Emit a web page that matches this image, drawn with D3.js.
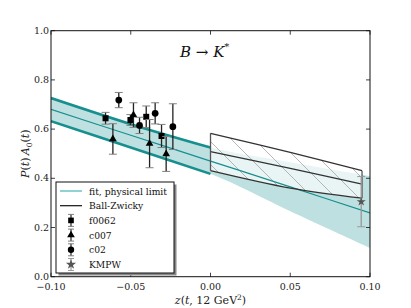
<!DOCTYPE html>
<html>
<head>
<meta charset="utf-8">
<script src="https://cdn.jsdelivr.net/npm/d3@7"></script>
<style>
  body { margin: 0; background: #fff; }
</style>
</head>
<body>
<div class="chart"></div>
<script>
// fit band, z(t) from -0.1 to 0.1
const bandZ = [-0.1, -0.05, 0, 0.05, 0.1];
const bandCentral = [0.680, 0.575, 0.470, 0.365, 0.259];
const bandUpper = [0.726, 0.620, 0.525, 0.465, 0.409];
const bandLower = [0.632, 0.525, 0.418, 0.266, 0.117];

// Ball-Zwicky box
const bzZ = [0, 0.05, 0.095];
const bzUpper = [0.583, 0.505, 0.431];
const bzCentral = [0.508, 0.440, 0.376];
const bzLower = [0.431, 0.360, 0.319];

// lattice points
const f0062Z = [-0.0658, -0.0502, -0.0403, -0.0307];
const f0062Val = [0.644, 0.637, 0.650, 0.572];
const f0062Err = [0.024, 0.022, 0.044, 0.047];

const c007Z = [-0.0612, -0.0483, -0.0382, -0.0278];
const c007Val = [0.560, 0.657, 0.541, 0.499];
const c007Err = [0.062, 0.050, 0.098, 0.071];

const c02Z = [-0.0575, -0.0445, -0.0347, -0.0236];
const c02Val = [0.718, 0.615, 0.664, 0.610];
const c02Err = [0.031, 0.033, 0.043, 0.093];

const kmpwZ = [0.0945];
const kmpwVal = [0.305];
const kmpwErr = [0.102];

const xTicks = [-0.1, -0.05, 0, 0.05, 0.1];
const yTicks = [0, 0.2, 0.4, 0.6, 0.8, 1.0];

const width = 411, height = 308;
const margin = { top: 30.7, right: 41, bottom: 31.3, left: 51 };
const serif = "'DejaVu Serif', serif";

const svg = d3.select(".chart")
  .append("svg")
  .attr("width", width)
  .attr("height", height)
  .attr("font-family", serif);

const x = d3.scaleLinear().domain([-0.1, 0.1]).range([margin.left, width - margin.right]);
const y = d3.scaleLinear().domain([0, 1]).range([height - margin.bottom, margin.top]);

const teal = "#178f8f";

// hatch pattern for the Ball-Zwicky box
const defs = svg.append("defs");
defs.append("clipPath").attr("id", "plotClip")
  .append("rect")
  .attr("x", x(-0.1)).attr("y", y(1))
  .attr("width", x(0.1) - x(-0.1)).attr("height", y(0) - y(1));
const hatch = defs.append("pattern")
  .attr("id", "hatch")
  .attr("patternUnits", "userSpaceOnUse")
  .attr("width", 23).attr("height", 23);
hatch.append("path")
  .attr("d", "M0,0 L23,23 M-6,17 L6,29 M17,-6 L29,6")
  .attr("stroke", "#9a9a9a")
  .attr("stroke-width", 0.7);

const plot = svg.append("g").attr("clip-path", "url(#plotClip)");

// fit band
const band = bandZ.map((z, i) => ({ z, c: bandCentral[i], hi: bandUpper[i], lo: bandLower[i] }));
const bandArea = d3.area()
  .x(d => x(d.z))
  .y0(d => y(d.lo))
  .y1(d => y(d.hi))
  .curve(d3.curveCatmullRom);
plot.append("path")
  .datum(band)
  .attr("d", bandArea)
  .attr("fill", "#bfe0e0");

// Ball-Zwicky box
const bz = bzZ.map((z, i) => ({ z, hi: bzUpper[i], c: bzCentral[i], lo: bzLower[i] }));
const bzArea = d3.area()
  .x(d => x(d.z))
  .y0(d => y(d.lo))
  .y1(d => y(d.hi))
  .curve(d3.curveCatmullRom);
plot.append("path").datum(bz).attr("d", bzArea)
  .attr("fill", "white").attr("fill-opacity", 0.65);
plot.append("path").datum(bz).attr("d", bzArea)
  .attr("fill", "url(#hatch)");

// central fit line
const line = (key) => d3.line()
  .x(d => x(d.z))
  .y(d => y(d[key]))
  .curve(d3.curveCatmullRom);
plot.append("path")
  .datum(band)
  .attr("d", line("c"))
  .attr("fill", "none")
  .attr("stroke", teal)
  .attr("stroke-width", 1.2);

// thick edges over the data region
const bandData = band.filter(d => d.z <= 0);
["hi", "lo"].forEach(k => {
  plot.append("path")
    .datum(bandData)
    .attr("d", line(k))
    .attr("fill", "none")
    .attr("stroke", teal)
    .attr("stroke-width", 2.6);
});

// box outline
["hi", "c", "lo"].forEach(k => {
  plot.append("path")
    .datum(bz)
    .attr("d", line(k))
    .attr("fill", "none")
    .attr("stroke", "#333")
    .attr("stroke-width", 1.3);
});
[bz[0], bz[bz.length - 1]].forEach(d => {
  plot.append("line")
    .attr("x1", x(d.z)).attr("x2", x(d.z))
    .attr("y1", y(d.lo)).attr("y2", y(d.hi))
    .attr("stroke", "#555")
    .attr("stroke-width", 1.3);
});

// error bar points
function drawPoints(zs, vals, errs, symbol, size, barColor, capColor, markFill) {
  const pts = zs.map((z, i) => ({ z, v: vals[i], e: errs[i] }));
  const g = svg.append("g");
  const p = g.selectAll("g").data(pts).join("g");
  p.append("line")
    .attr("x1", d => x(d.z)).attr("x2", d => x(d.z))
    .attr("y1", d => y(d.v - d.e)).attr("y2", d => y(d.v + d.e))
    .attr("stroke", barColor).attr("stroke-width", 1.3);
  [-1, 1].forEach(s => {
    p.append("line")
      .attr("x1", d => x(d.z) - 4).attr("x2", d => x(d.z) + 4)
      .attr("y1", d => y(d.v + s * d.e)).attr("y2", d => y(d.v + s * d.e))
      .attr("stroke", capColor).attr("stroke-width", 1);
  });
  p.append("path")
    .attr("d", d3.symbol().type(symbol).size(size))
    .attr("transform", d => `translate(${x(d.z)},${y(d.v)})`)
    .attr("fill", markFill);
}
drawPoints(f0062Z, f0062Val, f0062Err, d3.symbolSquare, 36, "#222", "#808080", "#000");
drawPoints(c007Z, c007Val, c007Err, d3.symbolTriangle, 26, "#222", "#808080", "#000");
drawPoints(c02Z, c02Val, c02Err, d3.symbolCircle, 36, "#222", "#808080", "#000");
drawPoints(kmpwZ, kmpwVal, kmpwErr, d3.symbolStar, 26, "#999", "#999", "#555");

// frame
svg.append("rect")
  .attr("x", x(-0.1)).attr("y", y(1))
  .attr("width", x(0.1) - x(-0.1)).attr("height", y(0) - y(1))
  .attr("fill", "none")
  .attr("stroke", "#111")
  .attr("stroke-width", 1);

// ticks, pointing inward on all four sides
const tickLen = 4;
const fmtX = d => d3.format(".2f")(d).replace("-", "\u2212");
const fmtY = d => d3.format(".1f")(d);
const ticks = svg.append("g").attr("stroke", "#111").attr("stroke-width", 0.8);
xTicks.forEach(t => {
  ticks.append("line").attr("x1", x(t)).attr("x2", x(t)).attr("y1", y(0)).attr("y2", y(0) - tickLen);
  ticks.append("line").attr("x1", x(t)).attr("x2", x(t)).attr("y1", y(1)).attr("y2", y(1) + tickLen);
});
yTicks.forEach(t => {
  ticks.append("line").attr("x1", x(-0.1)).attr("x2", x(-0.1) + tickLen).attr("y1", y(t)).attr("y2", y(t));
  ticks.append("line").attr("x1", x(0.1)).attr("x2", x(0.1) - tickLen).attr("y1", y(t)).attr("y2", y(t));
});

svg.append("g").selectAll("text").data(xTicks).join("text")
  .attr("x", d => x(d))
  .attr("y", y(0) + 13)
  .attr("text-anchor", "middle")
  .attr("font-size", 9.5)
  .attr("fill", "#222")
  .text(fmtX);
svg.append("g").selectAll("text").data(yTicks).join("text")
  .attr("x", x(-0.1) - 2)
  .attr("y", d => y(d) + 3)
  .attr("text-anchor", "end")
  .attr("font-size", 9.5)
  .attr("fill", "#222")
  .text(fmtY);

// axis labels
const xl = svg.append("text")
  .attr("x", x(0))
  .attr("y", 304)
  .attr("text-anchor", "middle")
  .attr("font-size", 11)
  .attr("fill", "#222");
xl.append("tspan").attr("font-style", "italic").text("z");
xl.append("tspan").text("(");
xl.append("tspan").attr("font-style", "italic").text("t");
xl.append("tspan").text(", 12 GeV");
xl.append("tspan").attr("dy", -4).attr("font-size", 7.5).text("2");
xl.append("tspan").attr("dy", 4).text(")");

const yl = svg.append("text")
  .attr("transform", `translate(29,${(y(0) + y(1)) / 2}) rotate(-90)`)
  .attr("text-anchor", "middle")
  .attr("font-size", 11)
  .attr("fill", "#222");
yl.append("tspan").attr("font-style", "italic").text("P");
yl.append("tspan").text("(");
yl.append("tspan").attr("font-style", "italic").text("t");
yl.append("tspan").text(")\u2009");
yl.append("tspan").attr("font-style", "italic").text("A");
yl.append("tspan").attr("dy", 3).attr("font-size", 7.5).text("0");
yl.append("tspan").attr("dy", -3).text("(");
yl.append("tspan").attr("font-style", "italic").text("t");
yl.append("tspan").text(")");

// title
const title = svg.append("text")
  .attr("x", 180)
  .attr("y", 57)
  .attr("font-size", 15)
  .attr("fill", "#111");
title.append("tspan").attr("font-style", "italic").text("B");
title.append("tspan").text(" \u2192 ");
title.append("tspan").attr("font-style", "italic").text("K");
title.append("tspan").attr("dy", -7).attr("font-size", 10).text("*");

// legend
const lg = svg.append("g").attr("transform", "translate(56,182)");
const lgW = 118, lgH = 91;
lg.append("rect").attr("x", 2.5).attr("y", 2.5).attr("width", lgW).attr("height", lgH).attr("fill", "#888");
lg.append("rect").attr("width", lgW).attr("height", lgH).attr("fill", "white").attr("stroke", "#111").attr("stroke-width", 1);

const legendLabels = ["fit, physical limit", "Ball-Zwicky", "f0062", "c007", "c02", "KMPW"];
const legendSymbols = [null, null, d3.symbolSquare, d3.symbolTriangle, d3.symbolCircle, d3.symbolStar];
const rowY = i => 9 + i * 14.7;
legendLabels.forEach((lab, i) => {
  const ry = rowY(i);
  if (i === 0) {
    lg.append("line").attr("x1", 4).attr("x2", 26).attr("y1", ry).attr("y2", ry)
      .attr("stroke", "#6cc3c3").attr("stroke-width", 1.5);
  } else if (i === 1) {
    lg.append("line").attr("x1", 4).attr("x2", 26).attr("y1", ry).attr("y2", ry)
      .attr("stroke", "#111").attr("stroke-width", 1.2);
  } else {
    const col = i === 5 ? "#999" : "#222";
    lg.append("line").attr("x1", 15).attr("x2", 15).attr("y1", ry - 6).attr("y2", ry + 6)
      .attr("stroke", col).attr("stroke-width", 1.2);
    [-6, 6].forEach(o => lg.append("line").attr("x1", 12).attr("x2", 18).attr("y1", ry + o).attr("y2", ry + o)
      .attr("stroke", i === 5 ? "#999" : "#808080").attr("stroke-width", 1));
    lg.append("path")
      .attr("d", d3.symbol().type(legendSymbols[i]).size(i === 3 ? 26 : 32))
      .attr("transform", `translate(15,${ry})`)
      .attr("fill", i === 5 ? "#555" : "#000");
  }
  lg.append("text")
    .attr("x", 33)
    .attr("y", ry + 3.5)
    .attr("font-size", 9.2)
    .attr("fill", "#111")
    .text(lab);
});
</script>
</body>
</html>
